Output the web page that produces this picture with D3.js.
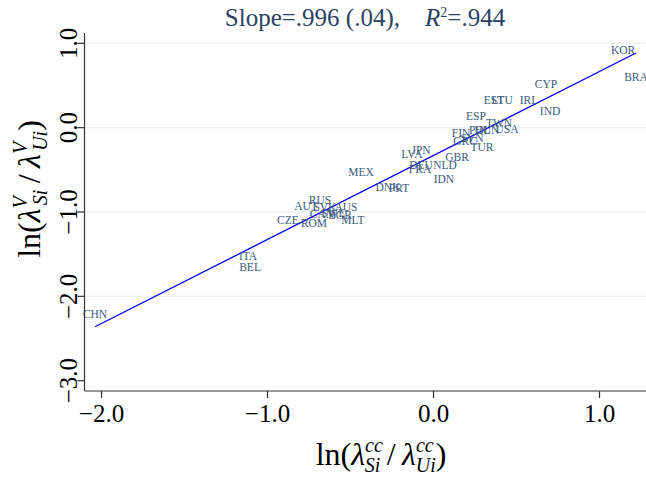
<!DOCTYPE html>
<html>
<head>
<meta charset="utf-8">
<script src="https://cdn.jsdelivr.net/npm/d3@7"></script>
<style>
  body { margin: 0; background: #fff; }
  svg { display: block; font-family: "Liberation Serif", "DejaVu Serif", serif; }
</style>
</head>
<body>
<svg id="chart" width="646" height="479"></svg>
<script>
// country codes and values
const countries = ["KOR", "BRA", "CYP", "EST", "LTU", "IRL", "IND", "ESP", "TWN", "USA",
  "FIN", "POL", "HUN", "SVN", "GRC", "TUR", "JPN", "LVA", "GBR", "DEU",
  "NLD", "FRA", "IDN", "MEX", "DNK", "PRT", "RUS", "AUT", "SVK", "AUS",
  "CAN", "SWE", "BGR", "CZE", "ROM", "MLT", "ITA", "BEL", "CHN"];
const xValues = [1.142, 1.220, 0.678, 0.364, 0.413, 0.575, 0.702, 0.256, 0.395, 0.443,
  0.166, 0.280, 0.322, 0.232, 0.190, 0.292, -0.075, -0.130, 0.142, -0.075,
  0.069, -0.081, 0.063, -0.437, -0.274, -0.208, -0.684, -0.768, -0.654, -0.527,
  -0.672, -0.605, -0.563, -0.877, -0.720, -0.485, -1.117, -1.105, -2.039];
const yValues = [0.922, 0.601, 0.518, 0.329, 0.329, 0.329, 0.198, 0.139, 0.056, -0.015,
  -0.063, -0.027, -0.027, -0.122, -0.158, -0.229, -0.265, -0.312, -0.348, -0.442,
  -0.442, -0.490, -0.608, -0.525, -0.703, -0.715, -0.858, -0.929, -0.941, -0.941,
  -1.024, -1.012, -1.036, -1.100, -1.130, -1.100, -1.522, -1.652, -2.210];

const xTicks = [-2, -1, 0, 1];
const yTicks = [1, 0, -1, -2, -3];

const fitSlope = 0.996;
const fitIntercept = -0.33;

const data = countries.map((c, i) => ({ c, x: xValues[i], y: yValues[i] }));

const svg = d3.select("#chart");
const plotLeft = 84.5, plotRight = 646, plotTop = 33, plotBottom = 391;

const x = d3.scaleLinear().domain([-2, 1]).range([101.5, 599.5]);
const y = d3.scaleLinear().domain([1, -3]).range([43.3, 380.7]);

// grid
svg.selectAll(".grid")
  .data(yTicks.filter((t) => t > -3))
  .enter()
  .append("line")
  .attr("x1", plotLeft)
  .attr("x2", plotRight)
  .attr("y1", (d) => y(d))
  .attr("y2", (d) => y(d))
  .style("stroke", "#eaf0f3")
  .style("stroke-width", 1.3);

// fit line
const xs = d3.extent(xValues);
svg.append("line")
  .attr("x1", x(xs[0]))
  .attr("y1", y(fitIntercept + fitSlope * xs[0]))
  .attr("x2", x(xs[1]))
  .attr("y2", y(fitIntercept + fitSlope * xs[1]))
  .style("stroke", "#0000ff")
  .style("stroke-width", 1.3);

// country labels
svg.selectAll(".lab")
  .data(data)
  .enter()
  .append("text")
  .attr("x", (d) => x(d.x))
  .attr("y", (d) => y(d.y))
  .attr("text-anchor", "middle")
  .attr("dominant-baseline", "central")
  .style("font-size", "11.5px")
  .style("fill", "#3a5a80")
  .text((d) => d.c);

// axes
const axisColor = "#333";
svg.append("line")
  .attr("x1", plotLeft).attr("x2", plotLeft).attr("y1", plotTop).attr("y2", plotBottom)
  .style("stroke", axisColor).style("stroke-width", 1.2);
svg.append("line")
  .attr("x1", plotLeft).attr("x2", plotRight).attr("y1", plotBottom).attr("y2", plotBottom)
  .style("stroke", axisColor).style("stroke-width", 1.2);

svg.selectAll(".ytick")
  .data(yTicks)
  .enter()
  .append("line")
  .attr("x1", plotLeft - 7).attr("x2", plotLeft)
  .attr("y1", (d) => y(d)).attr("y2", (d) => y(d))
  .style("stroke", axisColor).style("stroke-width", 1.2);

svg.selectAll(".ylab")
  .data(yTicks)
  .enter()
  .append("text")
  .attr("transform", (d) => `translate(77,${y(d)}) rotate(-90)`)
  .attr("text-anchor", "middle")
  .style("font-size", "25px")
  .style("fill", "#000")
  .text((d) => d3.format(".1f")(d));

svg.selectAll(".xtick")
  .data(xTicks)
  .enter()
  .append("line")
  .attr("x1", (d) => x(d)).attr("x2", (d) => x(d))
  .attr("y1", plotBottom).attr("y2", plotBottom + 7)
  .style("stroke", axisColor).style("stroke-width", 1.2);

svg.selectAll(".xlab")
  .data(xTicks)
  .enter()
  .append("text")
  .attr("x", (d) => x(d))
  .attr("y", 422)
  .attr("text-anchor", "middle")
  .style("font-size", "25px")
  .style("fill", "#000")
  .text((d) => d3.format(".1f")(d));

// title
const title = svg.append("text")
  .attr("x", 365)
  .attr("y", 26)
  .attr("text-anchor", "middle")
  .style("font-size", "25px")
  .style("fill", "#2c4166");
title.append("tspan").text("Slope=.996 (.04),\u00a0\u00a0\u00a0\u00a0");
title.append("tspan").style("font-style", "italic").text("R");
title.append("tspan").style("font-size", "14px").attr("dy", -9).text("2");
title.append("tspan").attr("dy", 9).text("=.944");

// axis titles with sub/superscripts
function ratioTitle(g, sup) {
  const t = g.append("text").attr("text-anchor", "middle").style("fill", "#000");
  t.append("tspan").style("font-size", "32px").text("ln(");
  t.append("tspan").style("font-size", "32px").style("font-style", "italic").text("λ");
  t.append("tspan").style("font-size", "20px").style("font-style", "italic").attr("dy", -13).text(sup);
  t.append("tspan").style("font-size", "20px").style("font-style", "italic").attr("dx", -sup.length * 9).attr("dy", 20).text("Si");
  t.append("tspan").style("font-size", "32px").attr("dy", -7).text("\u2009/\u2009");
  t.append("tspan").style("font-size", "32px").style("font-style", "italic").text("λ");
  t.append("tspan").style("font-size", "20px").style("font-style", "italic").attr("dy", -13).text(sup);
  t.append("tspan").style("font-size", "20px").style("font-style", "italic").attr("dx", -sup.length * 9).attr("dy", 20).text("Ui");
  t.append("tspan").style("font-size", "32px").attr("dy", -7).text(")");
  return t;
}

ratioTitle(svg.append("g").attr("transform", "translate(381,465)"), "cc");
ratioTitle(svg.append("g").attr("transform", "translate(40,189) rotate(-90)"), "V");
</script>
</body>
</html>
